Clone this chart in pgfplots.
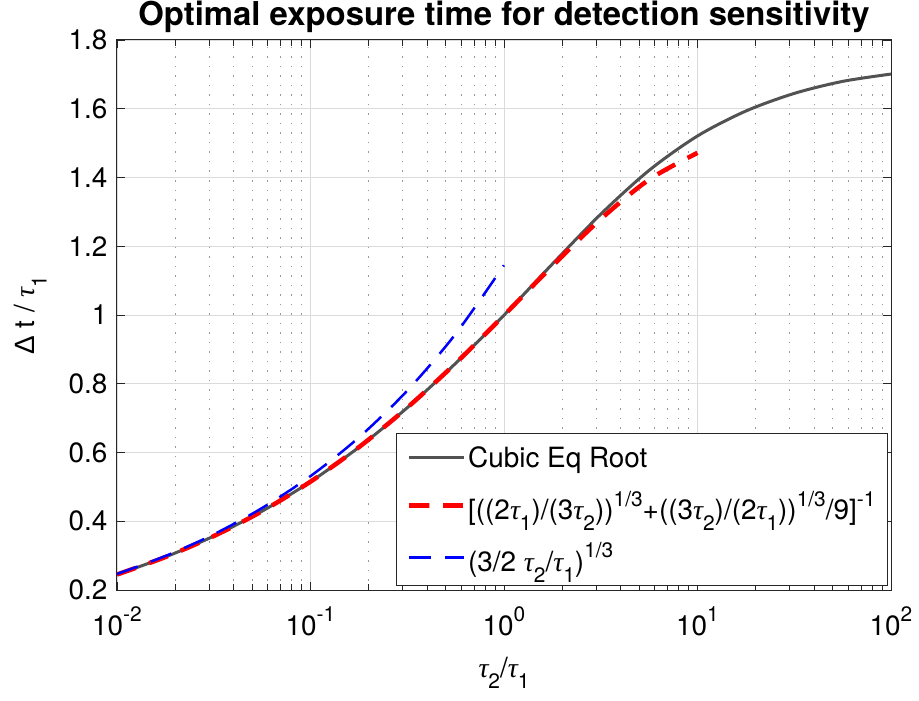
\documentclass[border=0pt]{standalone}
\usepackage{fontspec}
\setmainfont{TeX Gyre Heros}
\newfontfamily\gserif{Liberation Serif}
\newfontfamily\gsans{Liberation Sans}
\usepackage{pgfplots}
\pgfplotsset{compat=1.18}
\usetikzlibrary{calc}
\definecolor{curvegray}{rgb}{0.32,0.32,0.32}
\definecolor{axisgray}{rgb}{0.15,0.15,0.15}
\newcommand{\fsz}{\fontsize{28}{32}\selectfont}
\newcommand{\tu}{{\gserif\itshape τ}}
\newcommand{\sps}[1]{\raisebox{0.47em}{\fontsize{21}{22}\selectfont #1}}
\newcommand{\sbs}[1]{\raisebox{-0.42em}{\fontsize{21}{22}\selectfont #1}}
\begin{document}
\begin{tikzpicture}
\begin{axis}[
  name=ax,
  scale only axis,
  width=774bp, height=550bp,
  xmode=log,
  xmin=0.01, xmax=100,
  ymin=0.2, ymax=1.8,
  xtick={0.01,0.1,1,10,100},
  xticklabels={10\sps{-2},10\sps{-1},10\sps{0},10\sps{1},10\sps{2}},
  ytick={0.2,0.4,0.6,0.8,1,1.2,1.4,1.6,1.8},
  /pgf/number format/assume math mode=true,
  tick label style={font=\fsz},
  yticklabel style={anchor=east, xshift=-6bp},
  xticklabel style={anchor=base, yshift=-45bp},
  axis line style={color=axisgray, line width=1bp},
  every tick/.style={color=axisgray, line width=0.8bp},
  major tick length=8bp,
  minor tick length=6bp,
  xmajorgrids=true, ymajorgrids=true, xminorgrids=true,
  major grid style={color=black!14, line width=0.8bp},
  minor grid style={color=black!40, line width=0.7bp, dash pattern=on 1.5bp off 8bp},
  title={Optimal exposure time for detection sensitivity},
  title style={font=\bfseries\fontsize{33}{36}\selectfont, at={(axis description cs:0.5,1.0146)}, anchor=base, inner sep=0pt},
  xlabel={\tu\sbs{2}/\tu\sbs{1}},
  xlabel style={font=\fsz, at={(axis description cs:0.5,-0.1582)}, anchor=base, inner sep=0pt},
  ylabel={{\gsans Δ} t / \tu\sbs{1}},
  ylabel style={font=\fsz, at={(axis description cs:-0.106,0.5)}, anchor=base, inner sep=0pt},
  legend style={at={(rel axis cs:0.9961,0.0073)}, anchor=south east, font=\fsz,
    draw=axisgray, line width=1bp, fill=white, inner xsep=10bp, inner ysep=11bp, row sep=18bp},
  legend cell align=left,
  legend image code/.code={\draw[mark repeat=2,mark phase=2] plot coordinates {(0bp,0bp) (27.5bp,0bp) (55bp,0bp)};},
]
\addplot[curvegray, line width=3bp, smooth] coordinates {
(0.01,0.2450) (0.01778,0.2959) (0.03162,0.3568) (0.05623,0.4294)
(0.1,0.5150) (0.1778,0.6152) (0.3162,0.7303) (0.5623,0.8594)
(1,0.9995) (1.778,1.1483) (3.162,1.2933) (5.623,1.4208) (10,1.5208)
(17.78,1.5933) (31.62,1.6446) (56.23,1.6796) (100,1.7009)
};
\addlegendentry{Cubic Eq Root}
\addplot[red, line width=4.5bp, smooth, dash pattern=on 20bp off 14bp] coordinates {
(0.01,0.2450) (0.01778,0.2959) (0.03162,0.3568) (0.05623,0.4294)
(0.1,0.5152) (0.1778,0.6154) (0.3162,0.7305) (0.5623,0.8596)
(1,0.9992) (1.778,1.1427) (3.162,1.2790) (5.623,1.3939) (10,1.4717)
};
\addlegendentry{[((2\tu\sbs{1})/(3\tu\sbs{2}))\sps{1/3}+((3\tu\sbs{2})/(2\tu\sbs{1}))\sps{1/3}/9]\sps{-1}}
\addplot[blue, line width=2.5bp, smooth, dash pattern=on 22bp off 14bp] coordinates {
(0.01,0.2466) (0.01778,0.2988) (0.03162,0.3620) (0.05623,0.4386)
(0.1,0.5313) (0.1778,0.6437) (0.3162,0.7799) (0.5623,0.9449) (1,1.1447)
};
\addlegendentry{(3/2 \tu\sbs{2}/\tu\sbs{1})\sps{1/3}}
\end{axis}
\pgfresetboundingbox
\path ($(ax.south west)+(-117bp,-110bp)$) rectangle ($(ax.north east)+(28bp,40bp)$);
\end{tikzpicture}
\end{document}
